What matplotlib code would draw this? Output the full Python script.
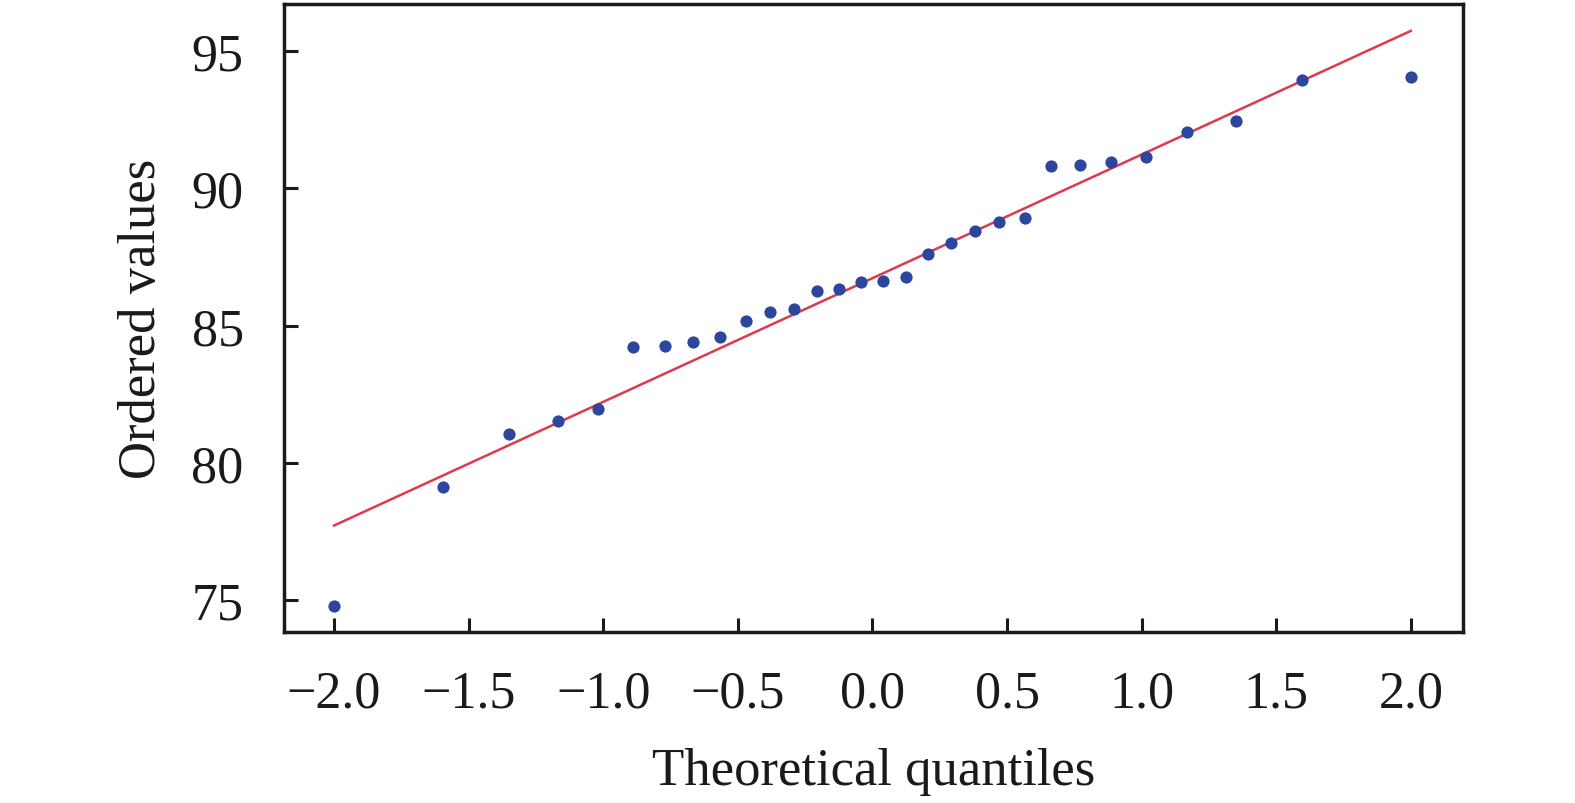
import matplotlib
matplotlib.use("Agg")
import matplotlib.pyplot as plt

# Theoretical quantiles
theoretical_q = [-2.00, -1.594, -1.351, -1.168, -1.018, -0.888, -0.772, -0.665,
                 -0.566, -0.471, -0.380, -0.293, -0.207, -0.124, -0.041,
                 0.041, 0.124, 0.207, 0.293, 0.380, 0.471, 0.566, 0.665,
                 0.772, 0.888, 1.018, 1.168, 1.351, 1.594, 2.00]
# Ordered values
ordered_vals = [74.78, 79.12, 81.04, 81.52, 81.96, 84.20, 84.27, 84.41,
                84.60, 85.16, 85.50, 85.60, 86.25, 86.33, 86.58,
                86.62, 86.76, 87.60, 88.02, 88.44, 88.77, 88.92, 90.82,
                90.86, 90.97, 91.15, 92.06, 92.46, 93.95, 94.05]
# Fitted line end points
fit_x = [-2.0, 2.0]
fit_y = [77.71, 95.74]

x_ticks = [-2.0, -1.5, -1.0, -0.5, 0.0, 0.5, 1.0, 1.5, 2.0]
y_ticks = [75, 80, 85, 90, 95]

plt.rcParams['font.family'] = ['Liberation Serif', 'DejaVu Serif']
plt.rcParams['axes.unicode_minus'] = True

fig = plt.figure(figsize=(15.75, 8.04), dpi=100)
ax = fig.add_axes([0.1803, 0.2127, 0.7486, 0.7811])

ax.plot(theoretical_q, ordered_vals, 'o', color='#2b469c', markersize=8.8,
        markeredgewidth=0, zorder=3)
ax.plot(fit_x, fit_y, '-', color='#e0384f', linewidth=1.8, zorder=2)

ax.set_xlim(-2.186, 2.194)
ax.set_ylim(73.83, 96.72)
ax.set_xticks(x_ticks)
ax.set_xticklabels([f"{v:.1f}".replace('-', '\u2212') for v in x_ticks])
ax.set_yticks(y_ticks)
ax.set_yticklabels([str(v) for v in y_ticks])

for s in ax.spines.values():
    s.set_linewidth(2.5)
    s.set_color('#1a1a1a')
ax.tick_params(direction='in', length=10, width=2.2, color='#1a1a1a',
               labelsize=37.5, labelcolor='#1a1a1a')
ax.tick_params(axis='x', pad=27)
ax.tick_params(axis='y', pad=29)

ax.set_xlabel('Theoretical quantiles', fontsize=38, color='#1a1a1a', labelpad=21)
ax.set_ylabel('Ordered values', fontsize=38, color='#1a1a1a', labelpad=18)

fig.savefig('out.png', dpi=100)
